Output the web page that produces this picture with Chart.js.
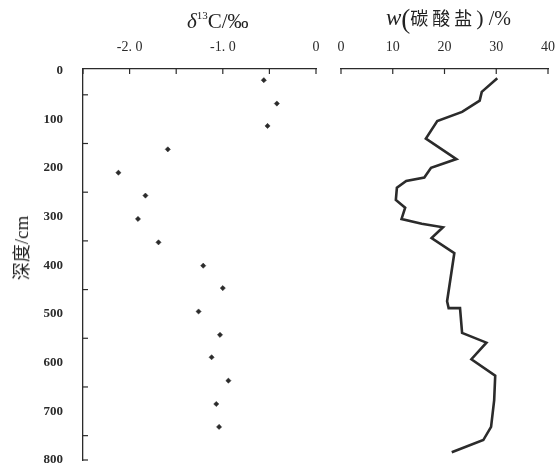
<!DOCTYPE html>
<html>
<head>
<meta charset="utf-8">
<script src="https://cdn.jsdelivr.net/npm/chart.js@4"></script>
<style>
  html, body { margin: 0; padding: 0; background: #fff; }
  #wrap { position: relative; width: 555px; height: 467px; font-family: "Liberation Serif", "Noto Sans CJK SC", serif; color: #222; }
  #c1 { position: absolute; left: 0; top: 0; }
  #c2 { position: absolute; left: 330px; top: 0; }
  .ttl { position: absolute; white-space: nowrap; line-height: 1; }
  .ttl i { font-style: italic; }
  .cjk { font-family: "Noto Sans CJK SC", sans-serif; }
  #ytitle { position: absolute; left: 21px; top: 248px; font-size: 19px; white-space: nowrap; line-height: 1;
            transform: translate(-50%, -50%) rotate(-90deg); }
</style>
</head>
<body>
<div id="wrap">
  <canvas id="c1" width="330" height="467"></canvas>
  <canvas id="c2" width="225" height="467"></canvas>
  <div class="ttl" style="left:187px; top:10px; font-size:21px;"><i>δ</i><sup style="font-size:11px; vertical-align:9px">13</sup>C/‰</div>
  <div class="ttl" style="left:386px; top:6px; font-size:20px;"><i style="font-size:23px">w</i><span style="font-size:27px; vertical-align:-3px">(</span><span class="cjk" style="font-size:18px; letter-spacing:4px">碳酸盐</span><span style="font-size:22px">)</span>&nbsp;/%</div>
  <div id="ytitle"><span class="cjk" style="font-size:18px">深度</span>/cm</div>
</div>
<script>
// delta 13C points (per mil) vs depth (cm)
var d13cDepth = [20, 68, 114, 162, 210, 257, 305, 353, 401, 447, 495, 543, 589, 637, 685, 732];
var d13cValue = [-0.56, -0.42, -0.52, -1.59, -2.12, -1.83, -1.91, -1.69, -1.21, -1.00, -1.26, -1.03, -1.12, -0.94, -1.07, -1.04];

// carbonate content (%) vs depth (cm)
var carbDepth = [16, 44, 62, 85, 104, 140, 182, 200, 220, 227, 241, 266, 282, 305, 315, 322, 344, 375,
                 474, 488, 488, 539, 559, 593, 627, 677, 732, 759, 784];
var carbValue = [30.2, 27.2, 26.8, 23.4, 18.6, 16.4, 22.3, 17.4, 16.1, 12.6, 10.8, 10.6, 12.4, 11.7, 15.6, 19.7, 17.5, 21.9,
                 20.5, 20.8, 23.0, 23.4, 28.1, 25.2, 29.8, 29.6, 29.0, 27.5, 21.4];

var depthTicks = [0, 100, 200, 300, 400, 500, 600, 700, 800];
var depthMinor = [50, 150, 250, 350, 450, 550, 650, 750, 800];
var d13cTicks = [-2.5, -2.0, -1.5, -1.0, -0.5, 0];
var d13cLabelVals = [-2, -1, 0];
var d13cLabelText = ['-2. 0', '-1. 0', '0'];
var carbTicks = [0, 10, 20, 30, 40];

var ink = '#2b2b2b';

// short tick marks drawn inward from the axis lines
var inwardTicks = {
  id: 'inwardTicks',
  afterDraw: function(chart, args, opts) {
    var ctx = chart.ctx;
    var a = chart.chartArea;
    ctx.save();
    ctx.strokeStyle = ink;
    ctx.lineWidth = 1.2;
    (opts.x || []).forEach(function(v) {
      var px = chart.scales.x.getPixelForValue(v);
      ctx.beginPath(); ctx.moveTo(px, a.top); ctx.lineTo(px, a.top + 5); ctx.stroke();
    });
    (opts.y || []).forEach(function(v) {
      var py = chart.scales.y.getPixelForValue(v);
      ctx.beginPath(); ctx.moveTo(a.left, py); ctx.lineTo(a.left + 5, py); ctx.stroke();
    });
    ctx.restore();
  }
};

// pin the plot box: no extra room for overhanging labels
function fitTop(s) { s.height = 69; s.paddingLeft = 0; s.paddingRight = 0; }
function fitLeft(s) { s.width = 83; s.paddingTop = 0; s.paddingBottom = 0; }

var noAnim = { animation: false, responsive: false, events: [] };

var leftPts = d13cDepth.map(function(d, i) { return { x: d13cValue[i], y: d }; });
var rightPts = carbDepth.map(function(d, i) { return { x: carbValue[i], y: d }; });

new Chart(document.getElementById('c1'), {
  type: 'scatter',
  data: { datasets: [{
    data: leftPts,
    pointStyle: 'rectRot',
    pointRadius: 2.6,
    backgroundColor: ink,
    borderColor: ink,
    borderWidth: 0.5
  }] },
  options: Object.assign({}, noAnim, {
    layout: { padding: { left: 0, right: 14, top: 0, bottom: 7 } },
    plugins: { legend: { display: false }, tooltip: { enabled: false },
               inwardTicks: { x: d13cTicks, y: depthMinor } },
    scales: {
      x: {
        type: 'linear', position: 'top', min: -2.5, max: 0,
        afterFit: fitTop,
        afterBuildTicks: function(s) { s.ticks = d13cTicks.map(function(v) { return { value: v }; }); },
        grid: { display: true, drawOnChartArea: false, drawTicks: false },
        border: { display: true, color: ink, width: 1.3 },
        ticks: {
          padding: 13, color: ink, maxRotation: 0, autoSkip: false,
          font: { family: 'Liberation Serif', size: 14 },
          callback: function(v) {
            var k = d13cLabelVals.findIndex(function(t) { return Math.abs(t - v) < 1e-6; });
            return k >= 0 ? d13cLabelText[k] : '';
          }
        }
      },
      y: {
        type: 'linear', position: 'left', reverse: true, min: -3, max: 800,
        afterFit: fitLeft,
        afterBuildTicks: function(s) { s.ticks = depthTicks.map(function(v) { return { value: v }; }); },
        grid: { display: true, drawOnChartArea: false, drawTicks: false },
        border: { display: true, color: ink, width: 1.3 },
        ticks: { padding: 20, color: ink, font: { family: 'Liberation Serif', size: 13, weight: 'bold' } }
      }
    }
  }),
  plugins: [inwardTicks]
});

new Chart(document.getElementById('c2'), {
  type: 'scatter',
  data: { datasets: [{
    data: rightPts,
    showLine: true,
    pointRadius: 0,
    borderColor: ink,
    borderWidth: 2.6,
    borderJoinStyle: 'miter',
    tension: 0
  }] },
  options: Object.assign({}, noAnim, {
    layout: { padding: { left: 11, right: 7, top: 0, bottom: 7 } },
    plugins: { legend: { display: false }, tooltip: { enabled: false },
               inwardTicks: { x: carbTicks } },
    scales: {
      x: {
        type: 'linear', position: 'top', min: 0, max: 40,
        afterFit: fitTop,
        afterBuildTicks: function(s) { s.ticks = carbTicks.map(function(v) { return { value: v }; }); },
        grid: { display: true, drawOnChartArea: false, drawTicks: false },
        border: { display: true, color: ink, width: 1.3 },
        ticks: { padding: 13, color: ink, maxRotation: 0, autoSkip: false,
                 font: { family: 'Liberation Serif', size: 14 } }
      },
      y: { type: 'linear', display: false, reverse: true, min: -3, max: 800 }
    }
  }),
  plugins: [inwardTicks]
});
</script>
</body>
</html>
